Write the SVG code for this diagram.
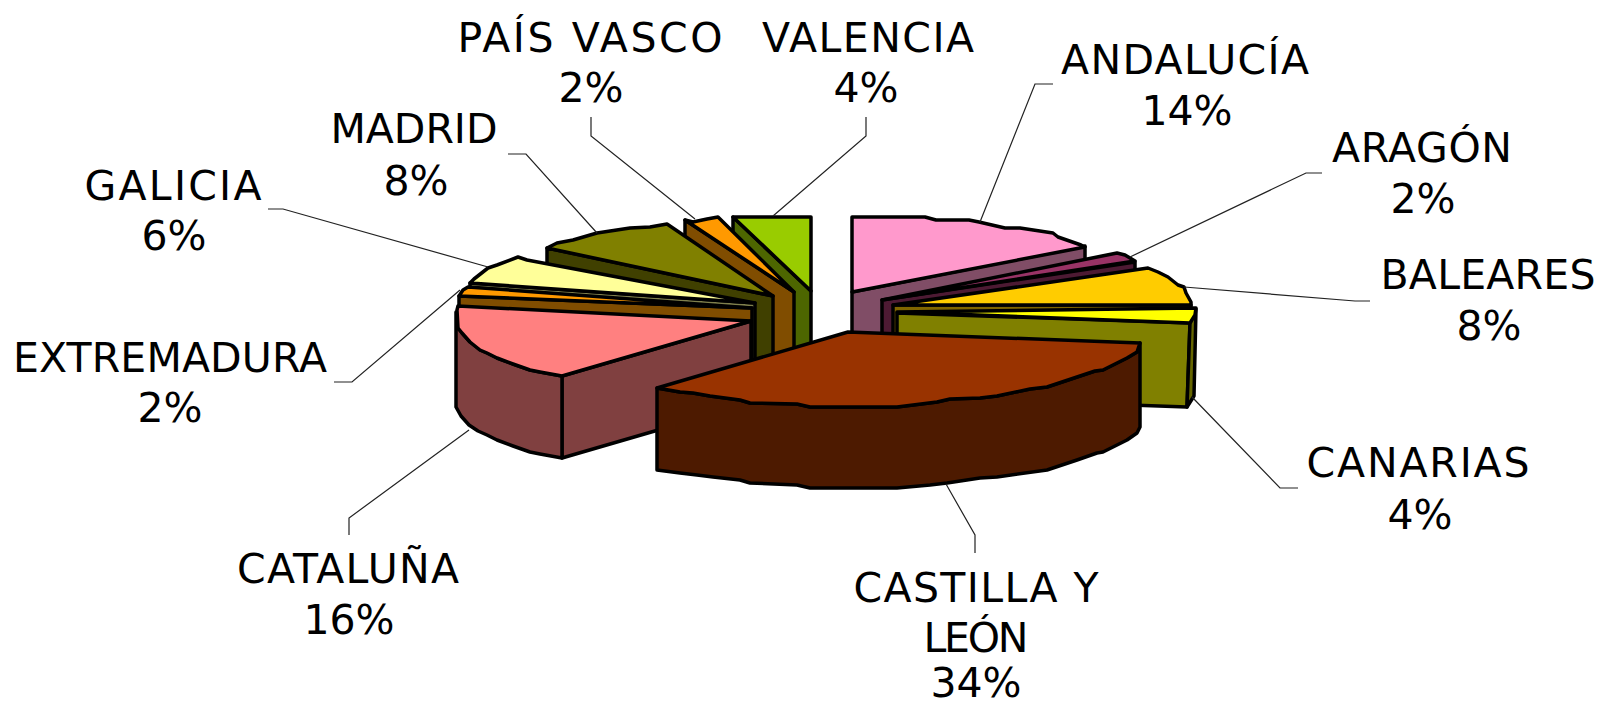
<svg xmlns="http://www.w3.org/2000/svg" width="1602" height="706" viewBox="0 0 1602 706">
<style>
.f{stroke:#000;stroke-width:3.5;stroke-linejoin:round}
.t{font-family:"DejaVu Sans",Verdana,sans-serif;font-size:41px;fill:#000;text-anchor:middle}
.ld{fill:none;stroke:#222;stroke-width:1.2}
</style>
<rect width="1602" height="706" fill="#fff"/>
<g id="valencia">
<path class="f" fill="#4D6600" d="M733,217 L811,291 L811,371 L733,297 Z"/>
<path class="f" fill="#99CC00" d="M733,217 L811,217 L811,291 Z"/>
</g>
<g id="pais-vasco">
<path class="f" fill="#804D00" d="M685,220 L794,292 L794,372 L685,300 Z"/>
<path class="f" fill="#FF9900" d="M685,220 L693,222 L707,219 L718,217 L794,292 Z"/>
</g>
<g id="madrid">
<path class="f" fill="#404000" d="M547,248 L773,296 L773,376 L547,328 Z"/>
<path class="f" fill="#808000" d="M547,248 L557,243 L573,240 L597,233 L630,228 L650,227 L667,224 L773,296 Z"/>
</g>
<g id="galicia">
<path class="f" fill="#80804D" d="M470,283 L755,303 L755,383 L470,363 Z"/>
<path class="f" fill="#FFFF99" d="M470,283 L474,279 L488,268 L497,265 L518,257 L527,260 L755,303 Z"/>
</g>
<g id="extremadura">
<path class="f" fill="#804D00" d="M459,296 L752,308 L752,388 L459,376 Z"/>
<path class="f" fill="#FF9900" d="M459,296 L463,290 L468,287 L752,308 Z"/>
</g>
<g id="cataluna">
<path class="f" fill="#804040" d="M562,376 L751,321 L751,403 L562,458 Z"/>
<path class="f" fill="#804040" d="M456,312 L458,328 L462,333 L470,342 L480,350 L487,353 L497,358 L513,364 L530,370 L540,372 L562,376 L562,458 L540,454 L530,452 L513,446 L497,440 L487,435 L478,431 L469,425 L461,416 L456,407 Z"/>
<path class="f" fill="#FF8080" d="M562,376 L540,372 L530,370 L513,364 L497,358 L487,353 L480,350 L470,342 L462,333 L458,328 L457,310 L458,306 L751,321 Z"/>
</g>
<g id="andalucia">
<path class="f" fill="#804D66" d="M852,292 L1085,246 L1085,326 L852,372 Z"/>
<path class="f" fill="#FF99CC" d="M852,217 L925,217 L936,220 L969,220 L979,222 L1005,228 L1020,228 L1053,233 L1058,237 L1081,245 L1085,247 L852,292 Z"/>
</g>
<g id="aragon">
<path class="f" fill="#4D1A33" d="M882,300 L1135,262 L1135,342 L882,380 Z"/>
<path class="f" fill="#993366" d="M882,300 L1117,253 L1125,255 L1135,261 Z"/>
</g>
<g id="baleares">
<path class="f" fill="#806600" d="M893,305 L1191,305 L1191,385 L893,385 Z"/>
<path class="f" fill="#FFCC00" d="M893,305 L1148,268 L1158,272 L1168,277 L1178,285 L1184,287 L1186,293 L1191,302 L1191,305 Z"/>
</g>
<g id="canarias">
<path class="f" fill="#808000" d="M897,313 L1190,323 L1187,407 L897,397 Z"/>
<path class="f" fill="#666600" d="M1190,323 L1196,309 L1194,396 L1187,407 Z"/>
<path class="f" fill="#FFFF00" d="M897,312 L1196,308 L1195,315 L1190,323 Z"/>
</g>
<g id="castilla-y-leon">
<path class="f" fill="#4D1A00" d="M657,388 L680,392 L693,393 L710,396 L740,400 L750,403 L797,404 L810,407 L863,407 L897,407 L937,402 L950,399 L980,398 L997,396 L1030,389 L1047,387 L1077,377 L1095,371 L1103,370 L1127,358 L1137,352 L1140,343 L1140,427 L1137,433 L1127,440 L1103,452 L1097,453 L1077,460 L1047,470 L997,477 L980,478 L947,483 L930,485 L897,488 L810,488 L797,485 L750,483 L740,480 L713,477 L697,475 L680,473 L657,470 Z"/>
<path class="f" fill="#993300" d="M657,388 L848,332 L1140,343 L1137,352 L1127,358 L1103,370 L1095,371 L1077,377 L1047,387 L1030,389 L997,396 L980,398 L950,399 L937,402 L897,407 L863,407 L810,407 L797,404 L750,403 L740,400 L710,396 L693,393 L680,392 Z"/>
</g>
<g id="connectors">
<path class="ld" d="M591,117 V136 L695,219"/>
<path class="ld" d="M508,154 H526 L597,233"/>
<path class="ld" d="M866,117 V136 L773,216"/>
<path class="ld" d="M1053,84 H1035 L980,222"/>
<path class="ld" d="M1322,173 H1306 L1130,257"/>
<path class="ld" d="M1370,301 H1355 L1184,287"/>
<path class="ld" d="M1298,488 H1280 L1192,397"/>
<path class="ld" d="M975,553 V535 L946,484"/>
<path class="ld" d="M349,535 V518 L469,430"/>
<path class="ld" d="M334,382 H352 L460,290"/>
<path class="ld" d="M268,209 H283 L488,267"/>
</g>
<g id="labels" class="t">
<text x="590" y="52" textLength="265">PAÍS VASCO</text>
<text x="591" y="102">2%</text>
<text x="868" y="52" textLength="212">VALENCIA</text>
<text x="866" y="102">4%</text>
<text x="1185" y="74" textLength="248">ANDALUCÍA</text>
<text x="1187" y="125">14%</text>
<text x="1422" y="162" textLength="180">ARAGÓN</text>
<text x="1423" y="213">2%</text>
<text x="1488" y="289" textLength="215">BALEARES</text>
<text x="1489" y="340">8%</text>
<text x="1418" y="477" textLength="223">CANARIAS</text>
<text x="1420" y="529">4%</text>
<text x="976" y="602" textLength="245">CASTILLA Y</text>
<text x="976" y="652" textLength="105">LEÓN</text>
<text x="976" y="697">34%</text>
<text x="414" y="143" textLength="167">MADRID</text>
<text x="416" y="195">8%</text>
<text x="173" y="200" textLength="177">GALICIA</text>
<text x="174" y="250">6%</text>
<text x="170" y="372" textLength="314">EXTREMADURA</text>
<text x="170" y="422">2%</text>
<text x="348" y="583" textLength="222">CATALUÑA</text>
<text x="349" y="634">16%</text>
</g>
</svg>
